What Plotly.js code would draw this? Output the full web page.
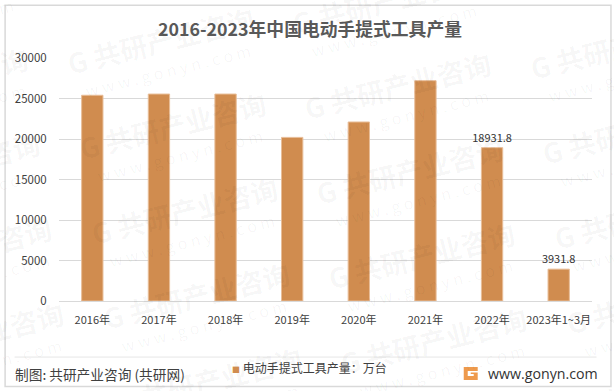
<!DOCTYPE html>
<html><head><meta charset="utf-8">
<script src="https://cdn.plot.ly/plotly-3.0.1.min.js"></script>
<style>html,body{margin:0;padding:0;background:#fff}#c{width:614px;height:391px}</style>
</head><body><div id="c"></div>
<script>
const categories = ['2016年','2017年','2018年','2019年','2020年','2021年','2022年','2023年1~3月'];
const values = [25400,25550,25550,20200,22100,27200,18931.8,3931.8];
const barLabels = ['','','','','','','18931.8','3931.8'];
const tickValues = [0,5000,10000,15000,20000,25000,30000];
const seriesName = '电动手提式工具产量：万台';
const W=614,H=391;
const FONT='"Noto Sans CJK SC","Noto Sans",sans-serif';
const L=58.5,R=592.5,T=58.3,B=301;
const px=x=>(x-L)/(R-L), py=y=>(B-y)/(B-T);
const ann=[];
// watermark tile
for(let i=-1;i<=2;i++){for(let j=-1;j<=4;j++){
  const cx=160+i*238+j*12, cy=40+i*45+j*85;
  if(cx<-90||cx>700||cy<-20||cy>410) continue;
  ann.push({xref:'paper',yref:'paper',x:px(cx),y:py(cy),xanchor:'center',yanchor:'middle',showarrow:false,
    text:'<b>G 共研产业咨询</b>',textangle:-14,font:{family:FONT,size:27.5,color:'rgba(0,0,0,0.04)'}});
  ann.push({xref:'paper',yref:'paper',x:px(cx+8),y:py(cy+30),xanchor:'center',yanchor:'middle',showarrow:false,
    text:'w w w . g o n y n . c o m',textangle:-14,font:{family:FONT,size:16,color:'rgba(0,0,0,0.04)'}});
}}
ann.push({xref:'paper',yref:'paper',x:px(12),y:py(374),xanchor:'left',yanchor:'middle',showarrow:false,
  text:'制图: 共研产业咨询 (共研网)',font:{family:FONT,size:13.7,color:'#404040'}});
ann.push({xref:'paper',yref:'paper',x:px(230),y:py(367),xanchor:'left',yanchor:'middle',showarrow:false,
  text:'<span style="color:#d08c4f;font-size:8px">■</span> '+seriesName,font:{family:FONT,size:12,color:'#404040'}});
ann.push({xref:'paper',yref:'paper',x:px(486),y:py(373.5),xanchor:'left',yanchor:'middle',showarrow:false,
  text:'www.gonyn.com',font:{family:'"Open Sans",sans-serif',size:14.2,color:'#333333'}});
const P=(x,y)=>`${px(x)},${py(y)}`;
const shapes=[
  {type:'rect',xref:'paper',yref:'paper',x0:px(4.5),x1:px(611.5),y0:py(5.5),y1:py(386.5),line:{color:'#d9d9d9',width:1.5},fillcolor:'rgba(0,0,0,0)',layer:'below'},
  {type:'line',xref:'paper',yref:'paper',x0:px(14),x1:px(597),y0:py(357),y1:py(357),line:{color:'#e6e6e6',width:1}},
  {type:'path',xref:'paper',yref:'paper',path:`M${P(464,367)} L${P(478,367)} L${P(478,371)} L${P(468,371)} L${P(468,376)} L${P(474,376)} L${P(474,374)} L${P(471,374)} L${P(471,372.5)} L${P(478,372.5)} L${P(478,380)} L${P(464,380)} Z`,fillcolor:'#ee9a4d',line:{width:0}}
];
Plotly.newPlot('c',[{
  type:'bar',x:categories,y:values,name:seriesName,text:barLabels,textposition:'outside',cliponaxis:false,constraintext:'none',
  textfont:{family:FONT,size:11,color:'#333333'},
  marker:{color:'#d08c4f',line:{color:'#e8bd98',width:1}},width:0.32,showlegend:false,hoverinfo:'x+y'
}],{
  width:W,height:H,paper_bgcolor:'#ffffff',plot_bgcolor:'rgba(0,0,0,0)',
  margin:{l:L,r:W-R,t:T,b:H-B,pad:0},showlegend:false,
  title:{text:'<b>2016-2023年中国电动手提式工具产量</b>',font:{family:FONT,size:17.8,color:'#595959'},x:px(310),xref:'paper',xanchor:'center',y:1-30/H,yanchor:'middle',automargin:false},
  xaxis:{type:'category',tickfont:{family:FONT,size:11,color:'#404040'},ticks:'outside',tickcolor:'rgba(0,0,0,0)',ticklen:9,showgrid:false,showline:true,linecolor:'#d9d9d9',linewidth:1,zeroline:false,tickangle:0,automargin:false},
  yaxis:{range:[0,30000],tickvals:tickValues,ticktext:tickValues.map(String),tickfont:{family:FONT,size:11.5,color:'#404040'},ticks:'outside',tickcolor:'rgba(0,0,0,0)',ticklen:9,showgrid:true,gridcolor:'#d9d9d9',gridwidth:1,zeroline:false,showline:false,automargin:false},
  annotations:ann,shapes:shapes,font:{family:FONT}
},{displayModeBar:false,responsive:false});
</script></body></html>
